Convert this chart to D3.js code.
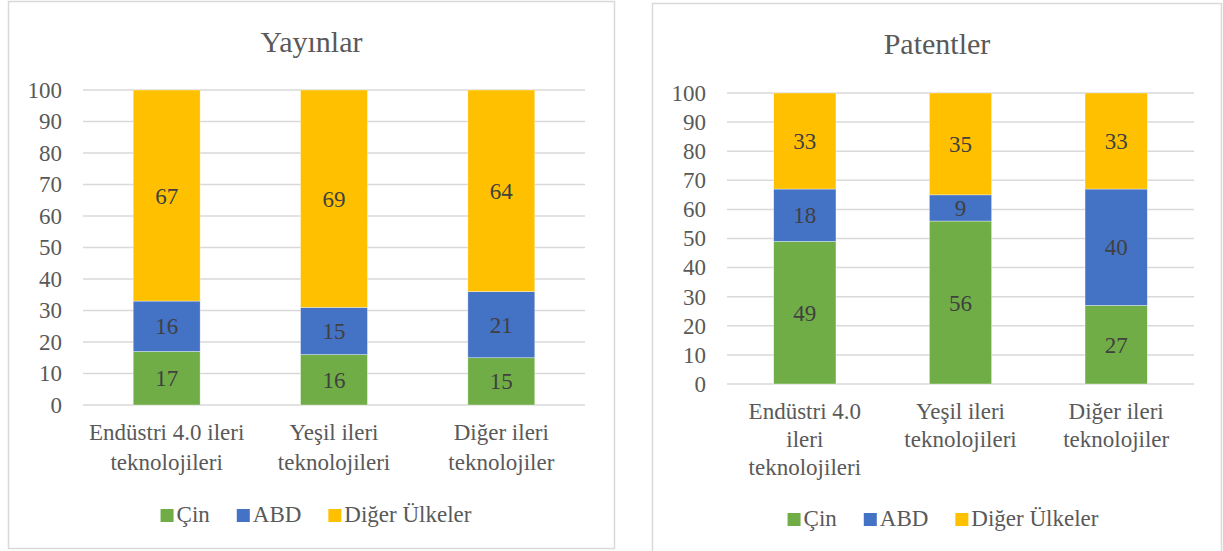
<!DOCTYPE html>
<html><head><meta charset="utf-8">
<script src="https://cdn.jsdelivr.net/npm/d3@7"></script>
<style>body{margin:0;background:#fff}svg{display:block}
svg text{font-family:"Liberation Serif","Tinos","Times New Roman","DejaVu Serif","Noto Serif",serif !important;}</style>
</head><body>
<svg id="c" width="1223" height="551"></svg>
<script>
const series = ["Çin", "ABD", "Diğer Ülkeler"];
const colors = ["#70AD47", "#4472C4", "#FFC000"];
const yTicks = [0,10,20,30,40,50,60,70,80,90,100];

const pubCategories = [["Endüstri 4.0 ileri","teknolojileri"],["Yeşil ileri","teknolojileri"],["Diğer ileri","teknolojiler"]];
const pubCin = [17, 16, 15];
const pubABD = [16, 15, 21];
const pubDiger = [67, 69, 64];

const patCategories = [["Endüstri 4.0","ileri","teknolojileri"],["Yeşil ileri","teknolojileri"],["Diğer ileri","teknolojiler"]];
const patCin = [49, 56, 27];
const patABD = [18, 9, 40];
const patDiger = [33, 35, 33];

const svg = d3.select("#c");
const FONT = "Liberation Serif, Tinos, Times New Roman, DejaVu Serif, serif";

function panel(o){
  const g = svg.append("g");
  g.append("rect").attr("x",o.bx).attr("y",o.by).attr("width",o.bw).attr("height",o.bh)
    .attr("fill","#fff").attr("stroke","#d9d9d9").attr("stroke-width",1.5);
  g.append("text").attr("x",o.bx+o.bw/2).attr("y",o.titleY).attr("text-anchor","middle")
    .attr("font-family",FONT).attr("font-size",30).attr("fill","#595959").text(o.title);
  const x = d3.scaleBand().domain(d3.range(o.cats.length)).range([o.x0,o.x1]).paddingInner(0.6).paddingOuter(0.3);
  const y = d3.scaleLinear().domain([0,100]).range([o.y0,o.y1]);
  g.append("g").selectAll("line").data(yTicks).join("line")
    .attr("x1",o.x0).attr("x2",o.x1).attr("y1",d=>y(d)).attr("y2",d=>y(d))
    .attr("stroke","#d9d9d9").attr("stroke-width",1.5);
  const ya = g.append("g").attr("transform",`translate(${o.x0},0)`)
    .call(d3.axisLeft(y).tickValues(yTicks).tickSize(0).tickPadding(o.tickPad));
  ya.select(".domain").remove();
  ya.attr("font-family",FONT);
  ya.selectAll("text").attr("font-family",FONT).attr("font-size",o.fs).attr("fill","#595959");
  const rows = o.cats.map((c,i)=>({i, v:[o.vals[0][i],o.vals[1][i],o.vals[2][i]]}));
  const stack = d3.stack().keys([0,1,2]).value((d,k)=>d.v[k])(rows);
  stack.forEach((layer,k)=>{
    const lg = g.append("g");
    lg.selectAll("rect").data(layer).join("rect")
      .attr("x",d=>x(d.data.i)).attr("width",x.bandwidth())
      .attr("y",d=>y(d[1])).attr("height",d=>y(d[0])-y(d[1]))
      .attr("fill",colors[k]).attr("stroke","#fff").attr("stroke-width",0.6).attr("stroke-opacity",0.6);
    lg.selectAll("text").data(layer).join("text")
      .attr("x",d=>x(d.data.i)+x.bandwidth()/2).attr("y",d=>y((d[0]+d[1])/2))
      .attr("dy","0.35em").attr("text-anchor","middle")
      .attr("font-family",FONT).attr("font-size",o.fs).attr("fill","#404040")
      .text(d=>d.data.v[k]);
  });
  const xl = g.append("g");
  o.cats.forEach((lines,i)=>{
    const t = xl.append("text").attr("text-anchor","middle").attr("font-family",FONT)
      .attr("font-size",o.fs).attr("fill","#595959");
    lines.forEach((ln,j)=>{
      t.append("tspan").attr("x",x(i)+x.bandwidth()/2).attr("y",o.xlabY + j*o.lh).text(ln);
    });
  });
  const lgG = g.append("g");
  let cx = 0;
  const GAP = 27;
  series.forEach((s,k)=>{
    const it = lgG.append("g").attr("transform",`translate(${cx},0)`);
    it.append("rect").attr("x",0).attr("y",-13).attr("width",13).attr("height",13).attr("fill",colors[k]);
    const tx = it.append("text").attr("x",16).attr("y",0).attr("font-family",FONT)
      .attr("font-size",o.fs).attr("fill","#595959").text(s);
    const w = 16 + tx.node().getComputedTextLength();
    cx += w + GAP;
  });
  const totalW = cx - GAP;
  lgG.attr("transform",`translate(${o.legCx - totalW/2},${o.legY})`);
}

panel({bx:8.5,by:1.5,bw:606,bh:547,title:"Yayınlar",titleY:52,
  x0:83,x1:585,y0:405,y1:90,fs:23,tickPad:21,
  cats:pubCategories,vals:[pubCin,pubABD,pubDiger],xlabY:440,lh:30,legY:522,legCx:316});
panel({bx:652.5,by:3.5,bw:569,bh:560,title:"Patentler",titleY:54,
  x0:727,x1:1194,y0:384,y1:93,fs:23,tickPad:21,
  cats:patCategories,vals:[patCin,patABD,patDiger],xlabY:419,lh:28,legY:526,legCx:943});
</script>
</body></html>
